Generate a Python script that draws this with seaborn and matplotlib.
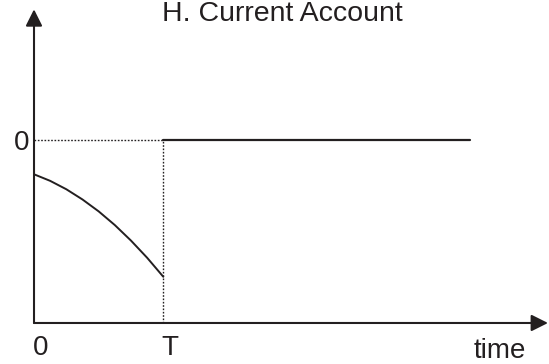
import matplotlib
matplotlib.use("Agg")
import matplotlib.pyplot as plt
import numpy as np
import pandas as pd
import seaborn as sns

# %% data (time in units of T, current account relative to the axis depth)
t_before = [0.0, 0.125, 0.25, 0.375, 0.5, 0.625, 0.75, 0.875, 1.0]
ca_before = [-0.186, -0.222, -0.268, -0.324, -0.389, -0.464, -0.549, -0.643, -0.747]
t_after = [1.0, 3.37]
ca_after = [0.0, 0.0]
tick_labels_x = ["0", "T"]
tick_pos_x = [0.0, 1.0]
title = "H. Current Account"

ink = "#231f20"

sns.set_style("white")
plt.rcParams["font.family"] = ["Liberation Sans", "DejaVu Sans"]

fig = plt.figure(figsize=(5.49, 3.64), dpi=100)
ax = fig.add_axes([0, 0, 1, 1])
ax.set_xlim(-0.263, 3.983)
ax.set_ylim(-1.2245, 0.768)
ax.axis("off")

df_before = pd.DataFrame({"t": t_before, "ca": ca_before})
df_after = pd.DataFrame({"t": t_after, "ca": ca_after})
sns.lineplot(df_before, x="t", y="ca", color=ink, lw=1.4, ax=ax, sort=False)
sns.lineplot(df_after, x="t", y="ca", color=ink, lw=1.6, ax=ax, sort=False)

# dotted guides at zero and at T
ax.plot([0, 1], [0, 0], color=ink, lw=1.0, ls=(0, (1.2, 1.2)))
ax.plot([1, 1], [-1, 0], color=ink, lw=1.0, ls=(0, (1.2, 1.2)))

# axes with arrow heads
arrow = dict(arrowstyle="-|>,head_length=0.7,head_width=0.35", mutation_scale=14.4,
             lw=1.5, color=ink, shrinkA=0, shrinkB=0)
ax.annotate("", xy=(3.975, -1), xytext=(0, -1), arrowprops=arrow)
ax.annotate("", xy=(0, 0.717), xytext=(0, -1), arrowprops=arrow)

# labels
ax.text(1.922, 0.652, title, ha="center", va="baseline", fontsize=20.5, color=ink)
ax.text(-0.039, -0.053, "0", ha="right", va="baseline", fontsize=20, color=ink)
for pos, lab in zip(tick_pos_x, tick_labels_x):
    ax.text(pos - 0.012, -1.176, lab, ha="left", va="baseline", fontsize=20, color=ink)
ax.text(3.403, -1.19, "time", ha="left", va="baseline", fontsize=20, color=ink)

fig.savefig("out.png", dpi=100)
